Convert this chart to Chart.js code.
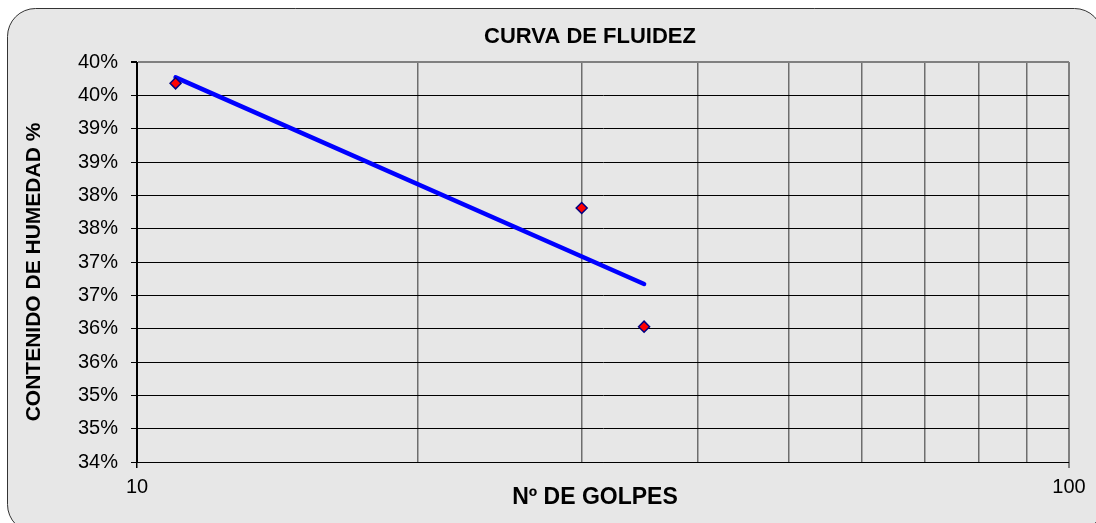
<!DOCTYPE html>
<html>
<head>
<meta charset="utf-8">
<script src="https://cdn.jsdelivr.net/npm/chart.js@4/dist/chart.umd.min.js"></script>
<style>
  html, body { margin: 0; padding: 0; background: #ffffff; }
  #wrap { width: 1096px; height: 523px; }
</style>
</head>
<body>
<div id="wrap"><canvas id="fluidezChart" width="1096" height="523"></canvas></div>
<script>
// datos del ensayo
const golpes = [11, 30, 35];
const humedad = [39.68, 37.81, 36.03];

// linea de tendencia (logaritmica)
const tendenciaX = [11, 35];
const tendenciaY = [39.77, 36.67];

const xGrid = [10, 20, 30, 40, 50, 60, 70, 80, 90, 100];
const xTickLabels = [10, 100];
const yMin = 34, yMax = 40, yStep = 0.5;

const FONT = "'Liberation Sans', Arial, sans-serif";

const fondo = {
    id: 'fondo',
    beforeDraw(chart) {
        const c = chart.ctx;
        c.save();
        c.fillStyle = '#ffffff';
        c.fillRect(0, 0, chart.width, chart.height);
        c.beginPath();
        c.roundRect(7.5, 8.5, 1095, 524, 28);
        c.fillStyle = '#e7e7e7';
        c.fill();
        c.strokeStyle = '#333333';
        c.lineWidth = 1;
        c.stroke();
        c.restore();
    }
};

const titulos = {
    id: 'titulos',
    afterDraw(chart) {
        const c = chart.ctx;
        c.save();
        c.fillStyle = '#000000';
        c.textAlign = 'center';
        c.textBaseline = 'middle';
        c.font = 'bold 22px ' + FONT;
        c.fillText('CURVA DE FLUIDEZ', 590, 37);
        c.font = 'bold 23px ' + FONT;
        c.fillText('Nº DE GOLPES', 595, 498);
        c.font = 'bold 21px ' + FONT;
        c.translate(34, 272);
        c.rotate(-Math.PI / 2);
        c.fillText('CONTENIDO DE HUMEDAD %', 0, 0);
        c.restore();
    }
};

const ctx = document.getElementById('fluidezChart');

new Chart(ctx, {
    type: 'scatter',
    data: {
        datasets: [
            {
                label: 'Tendencia',
                data: tendenciaX.map((x, i) => ({ x: x, y: tendenciaY[i] })),
                showLine: true,
                borderColor: '#0000ff',
                borderWidth: 4.5,
                borderCapStyle: 'round',
                pointRadius: 0,
                order: 2
            },
            {
                label: 'Humedad',
                data: golpes.map((x, i) => ({ x: x, y: humedad[i] })),
                pointStyle: 'rectRot',
                pointRadius: 5.5,
                backgroundColor: '#ff0000',
                borderColor: '#000080',
                borderWidth: 1.5,
                order: 1
            }
        ]
    },
    options: {
        responsive: false,
        animation: false,
        events: [],
        layout: { padding: { left: 0, right: 27, top: 62, bottom: 0 } },
        plugins: {
            legend: { display: false },
            tooltip: { enabled: false }
        },
        scales: {
            x: {
                type: 'logarithmic',
                min: 10,
                max: 100,
                afterBuildTicks: (scale) => { scale.ticks = xGrid.map(v => ({ value: v })); },
                afterFit: (scale) => { scale.height = 61; },
                border: { color: '#000000', width: 1 },
                grid: {
                    color: (c) => c.tick && c.tick.value === 100 ? '#808080' : (c.tick && c.tick.value === 10 ? '#000000' : '#6e6e6e'),
                    lineWidth: (c) => c.tick && c.tick.value === 100 ? 2 : 1.5,
                    tickLength: 6,
                    tickColor: (c) => c.tick && c.tick.value === 100 ? '#808080' : (c.tick && xTickLabels.includes(c.tick.value) ? '#000000' : 'rgba(0,0,0,0)')
                },
                ticks: {
                    autoSkip: false,
                    maxRotation: 0,
                    padding: 7,
                    color: '#000000',
                    font: { family: FONT, size: 20 },
                    callback: (v) => xTickLabels.includes(v) ? String(v) : ''
                }
            },
            y: {
                min: yMin,
                max: yMax,
                afterFit: (scale) => { scale.width = 137; },
                border: { color: '#000000', width: 1 },
                grid: {
                    color: (c) => c.tick && c.tick.value === yMax ? '#808080' : '#000000',
                    lineWidth: (c) => c.tick && c.tick.value === yMax ? 2 : 1,
                    tickLength: 6,
                    tickColor: '#000000'
                },
                ticks: {
                    stepSize: yStep,
                    padding: 13,
                    color: '#000000',
                    font: { family: FONT, size: 20 },
                    callback: (v) => Math.round(v) + '%'
                }
            }
        }
    },
    plugins: [fondo, titulos]
});
</script>
</body>
</html>
